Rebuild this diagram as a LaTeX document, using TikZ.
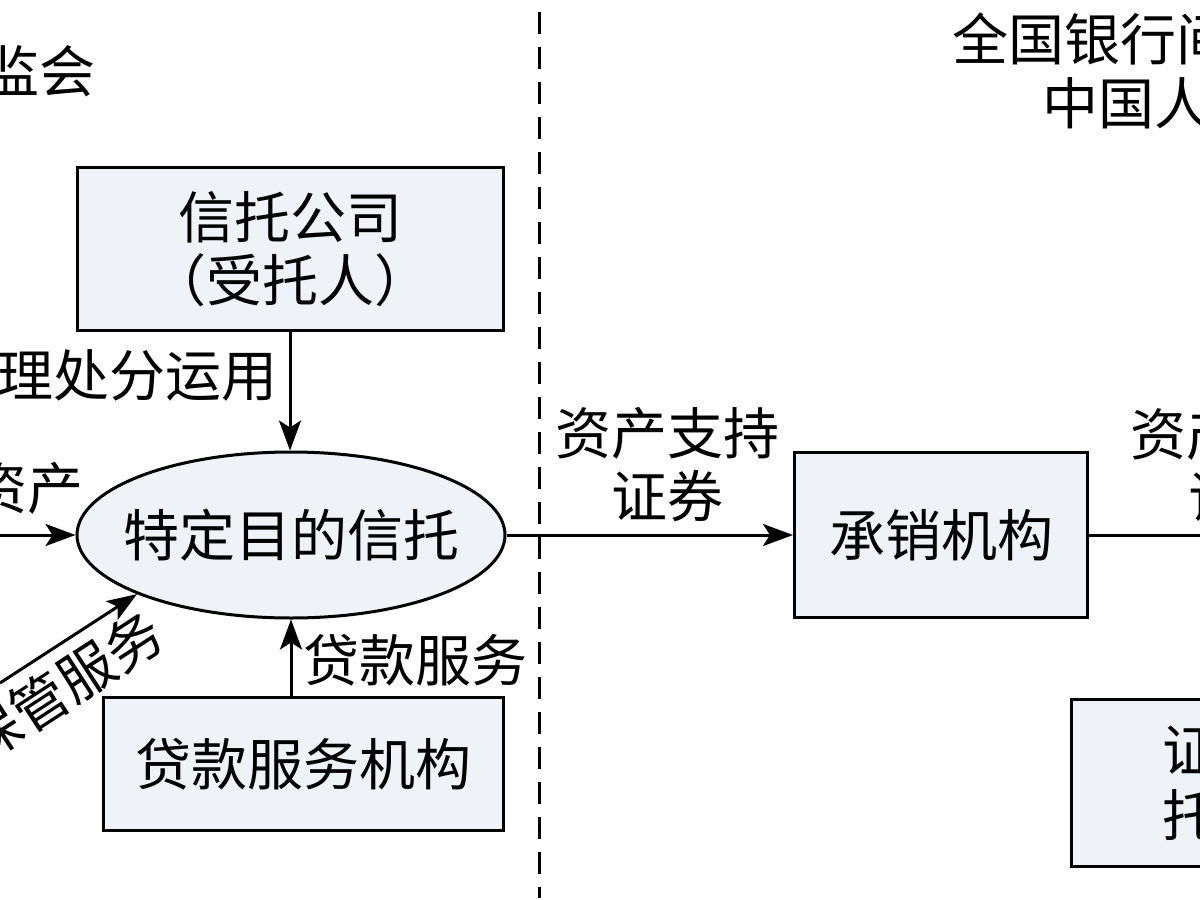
\documentclass[tikz,border=0pt]{standalone}
\usepackage{fontspec}
\setmainfont{Noto Sans CJK SC}
\usetikzlibrary{shapes.geometric,arrows.meta}
\definecolor{boxfill}{RGB}{239,242,246}
\begin{document}
\begin{tikzpicture}[x=1pt,y=-1pt,
  every node/.style={font=\fontsize{56}{63}\selectfont, inner sep=0pt},
  box/.style={draw, line width=3pt, fill=boxfill, align=center},
  arr/.style={line width=3pt, -{Stealth[length=30pt,width=22pt,inset=7pt]}},
  con/.style={line width=3pt},
  sep/.style={line width=3pt, dash pattern=on 22pt off 13pt}]
\useasboundingbox (0,0) rectangle (1200,900);
\clip (0,0) rectangle (1200,900);
\fill[white] (0,0) rectangle (1200,900);
% boxes
\node[box, minimum width=426pt, minimum height=163pt] (trust) at (290,249) {信托公司\\（受托人）};
\node[box, ellipse, inner xsep=-17pt, minimum width=428pt, minimum height=166pt] (spt) at (291,535) {特定目的信托};
\node[box, minimum width=400pt, minimum height=133pt] (loan) at (303,764) {贷款服务机构};
\node[box, minimum width=293pt, minimum height=165pt] (under) at (941,535) {承销机构};
\node[box, anchor=north west, minimum width=180pt, minimum height=167pt] (depo) at (1070,698) {};
\node[anchor=west] (depo1) at (1162,750) {证};
\node[anchor=west] (depo2) at (1162,815) {托};
% labels
\node[anchor=east] (lblmanage) at (278,375) {理处分运用};
\node[anchor=east] (lblasset) at (84,488) {资产};
\node[rotate=33] (lblcustody) at (63,687) {保管服务};
\node[anchor=west] (lblloan) at (303,660) {贷款服务};
\node[align=center] (lblabs) at (667,465) {资产支持\\证券};
\node[anchor=west] (lblabsa) at (1130,434) {资产};
\node[anchor=west] (lblabsb) at (1188,497) {证};
\node[anchor=east] (reg) at (96,71) {监会};
\node[anchor=west] (interbank1) at (952,39) {全国银行间};
\node[anchor=west] (interbank2) at (1042,103) {中国人};
% connectors
\coordinate (inA) at (0,535);
\coordinate (inB) at (0,683);
\coordinate (outR) at (1210,535);
\coordinate (sepTop) at (539,12);
\coordinate (sepBot) at (539,898);
\draw[arr] (trust.south) -- (trust.south |- spt.north);
\draw[arr] (loan.north -| spt.center) -- (spt.south);
\draw[arr] (inA) -- (spt.west);
\draw[arr] (inB) -- (spt.201);
\draw[arr] (spt.east) -- (under.west);
\draw[con] (under.east) -- (outR);
\draw[sep] (sepTop) -- (sepBot);
\end{tikzpicture}
\end{document}
